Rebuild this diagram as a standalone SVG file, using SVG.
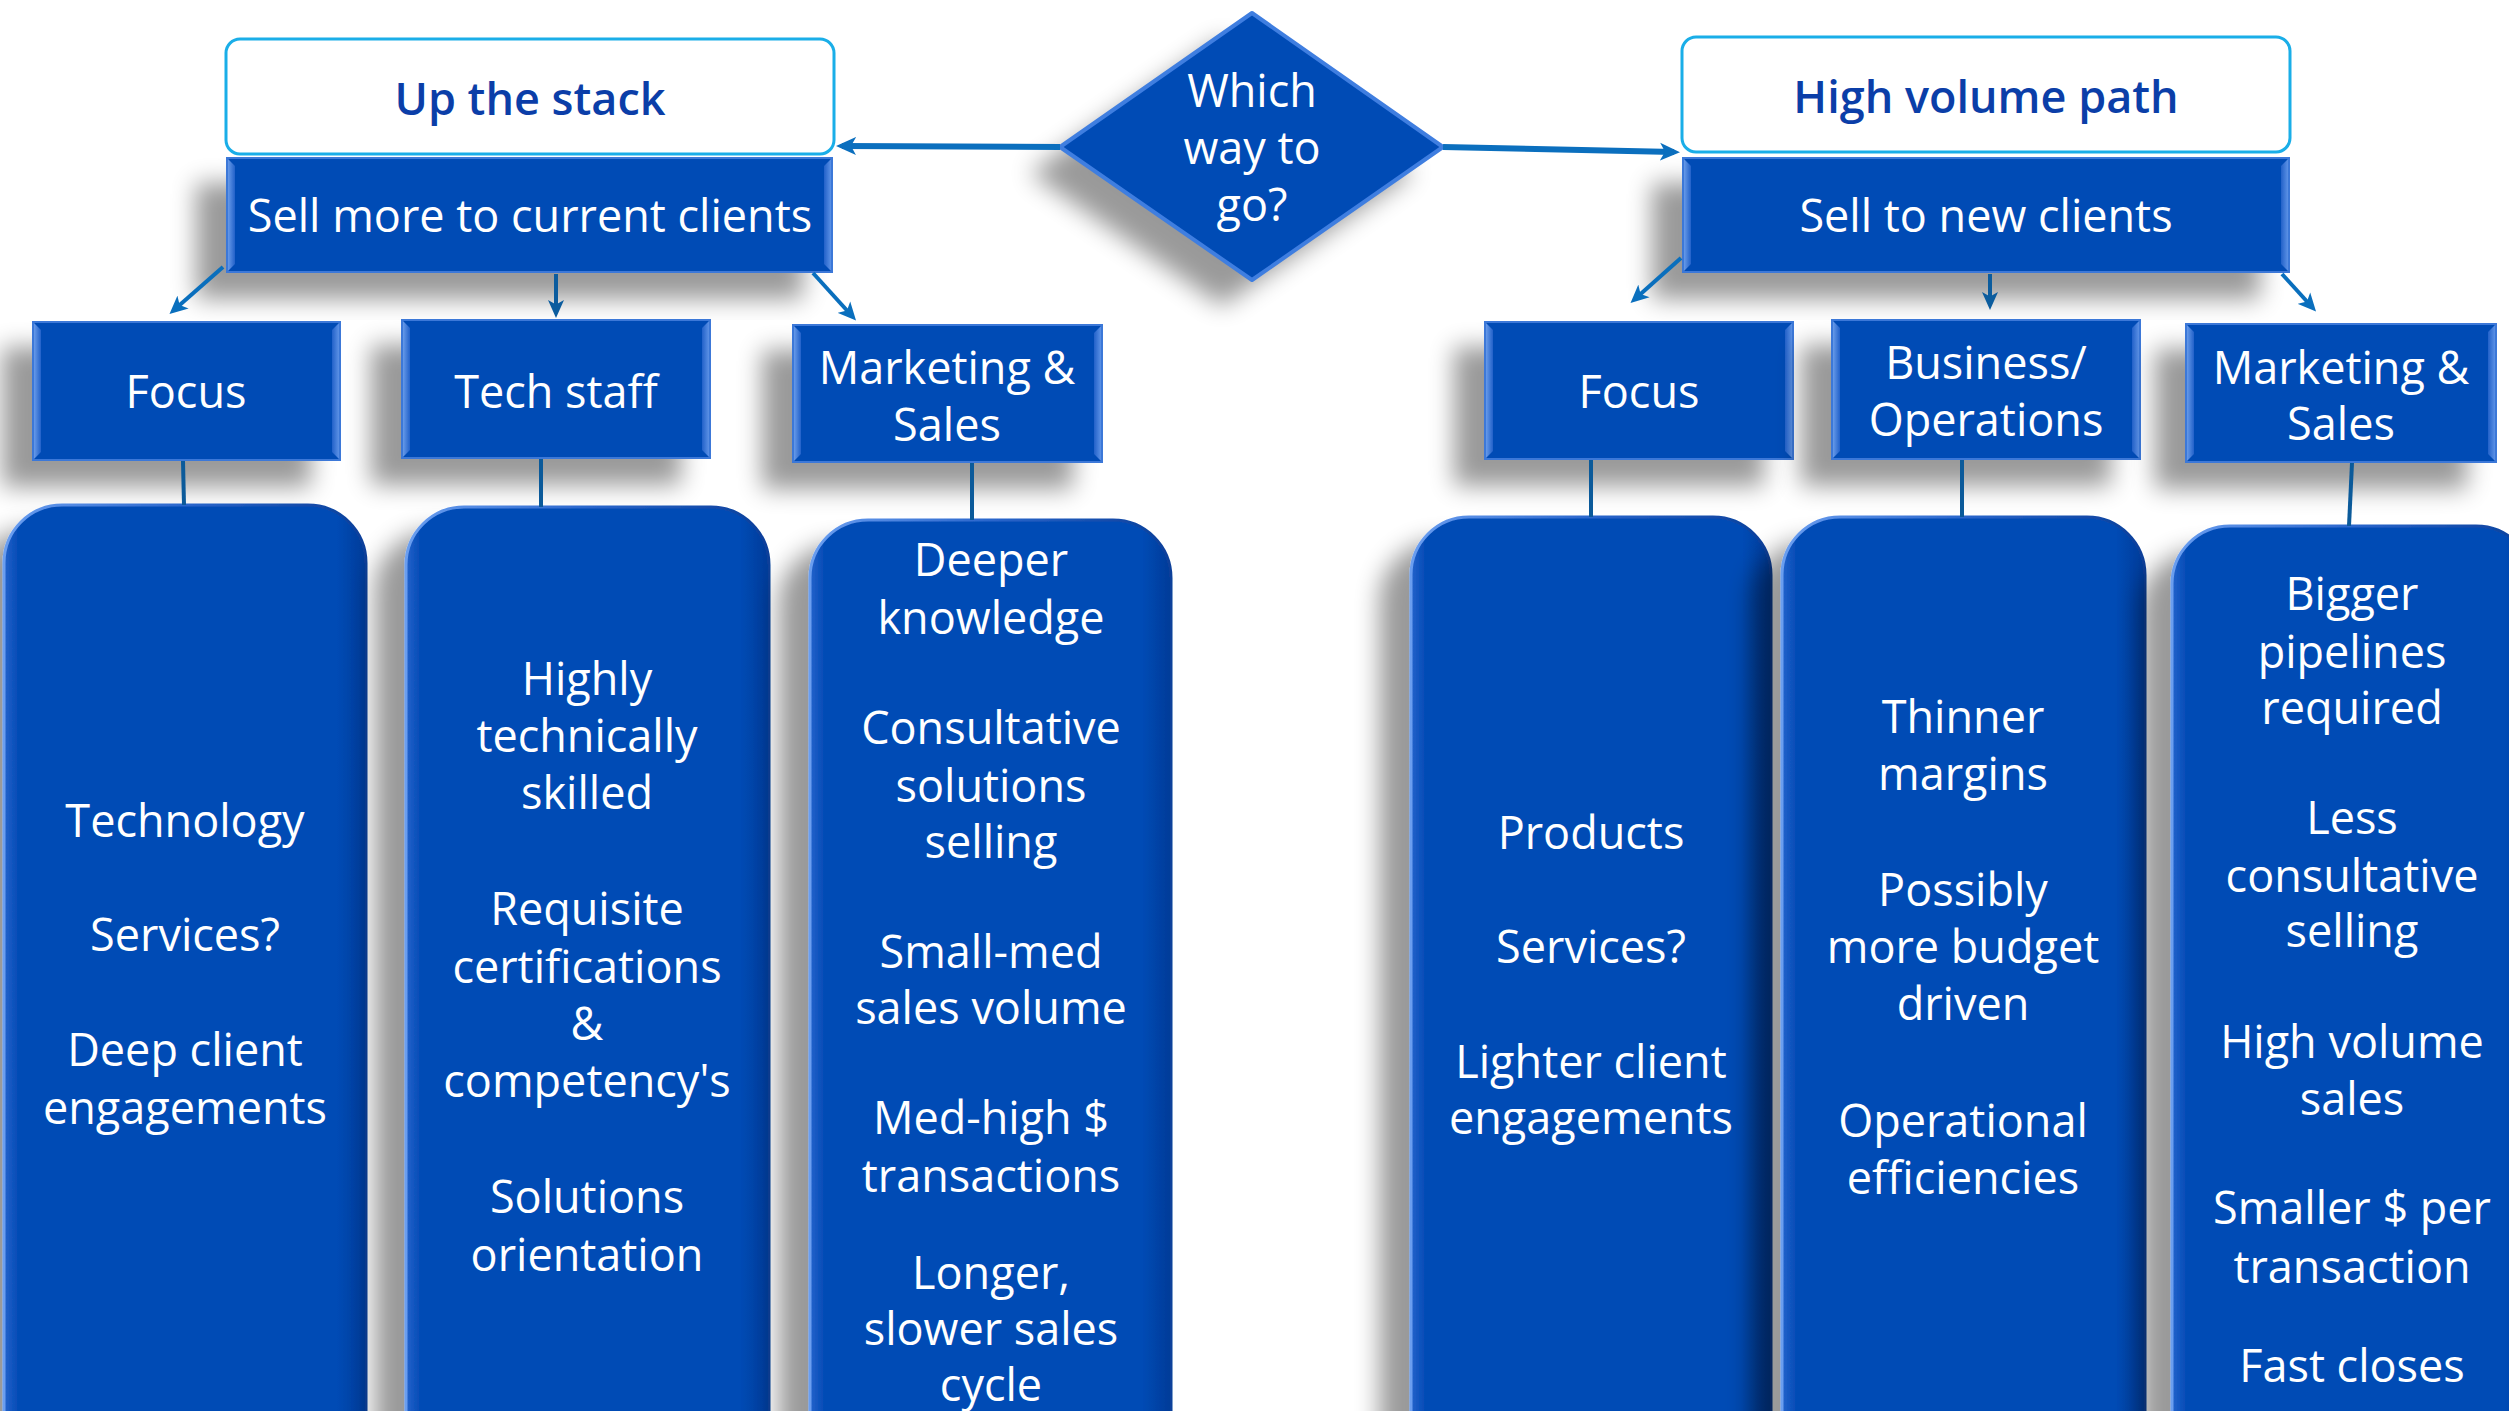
<svg xmlns="http://www.w3.org/2000/svg" width="2509" height="1411" viewBox="0 0 2509 1411">
  <style>
    .box { fill: #034bb5; }
    .edge { fill: none; stroke: #3c78d8; stroke-width: 2; }
    .bl { fill: url(#bevL); }
    .br { fill: url(#bevR); }
    .pill { fill: url(#pillFill); stroke: url(#pillEdge); stroke-width: 3; }
    .head { fill: #ffffff; stroke: #1aaee8; stroke-width: 3; }
    .w { fill: #ffffff; font-family: "Open Sans", "Noto Sans", "Liberation Sans", sans-serif; font-size: 45px; text-anchor: middle; }
    .t { fill: #0b3ea8; font-family: "Open Sans", "Noto Sans", "Liberation Sans", sans-serif; font-size: 45px; font-weight: 600; text-anchor: middle; }
    .thick { fill: none; stroke: #0b6fbe; stroke-width: 6; }
    .diag { fill: none; stroke: #0a6fbd; stroke-width: 4; }
    .vert { fill: none; stroke: #0b5c9e; stroke-width: 4; }
    .link { fill: none; stroke: #0b5a9a; stroke-width: 4; }
  </style>
  <defs>
    <filter id="shadow" x="-30%" y="-30%" width="160%" height="170%">
      <feGaussianBlur in="SourceAlpha" stdDeviation="12"/>
      <feOffset dx="-30" dy="26" result="o"/>
      <feComponentTransfer><feFuncA type="linear" slope="0.4"/></feComponentTransfer>
      <feMerge><feMergeNode/><feMergeNode in="SourceGraphic"/></feMerge>
    </filter>
    <linearGradient id="bevL" x1="0" y1="0" x2="1" y2="0">
      <stop offset="0" stop-color="#7aaaf2"/>
      <stop offset="1" stop-color="#2261c9"/>
    </linearGradient>
    <linearGradient id="bevR" x1="0" y1="0" x2="1" y2="0">
      <stop offset="0" stop-color="#2261c9"/>
      <stop offset="1" stop-color="#6c9fee"/>
    </linearGradient>
    <linearGradient id="pillFill" x1="0" y1="0" x2="1" y2="0">
      <stop offset="0" stop-color="#2563cc"/>
      <stop offset="0.04" stop-color="#034bb5"/>
      <stop offset="0.92" stop-color="#034bb5"/>
      <stop offset="1" stop-color="#023b98"/>
    </linearGradient>
    <linearGradient id="pillEdge" x1="0" y1="0" x2="1" y2="0">
      <stop offset="0" stop-color="#6a9ef0"/>
      <stop offset="0.5" stop-color="#2a66cc"/>
      <stop offset="1" stop-color="#0a3f9a"/>
    </linearGradient>
    <marker id="mThick" viewBox="0 0 20 20" refX="14" refY="10" markerWidth="20" markerHeight="20" markerUnits="userSpaceOnUse" orient="auto">
      <path d="M0,1 L20,10 L0,19 L5,10 z" fill="#0b6fbe"/>
    </marker>
    <marker id="mDiag" viewBox="0 0 18 18" refX="12" refY="9" markerWidth="18" markerHeight="18" markerUnits="userSpaceOnUse" orient="auto">
      <path d="M0,0.5 L18,9 L0,17.5 L4.5,9 z" fill="#0a6fbd"/>
    </marker>
    <marker id="mVert" viewBox="0 0 18 18" refX="12" refY="9" markerWidth="18" markerHeight="18" markerUnits="userSpaceOnUse" orient="auto">
      <path d="M0,1 L18,9 L0,17 L4.5,9 z" fill="#0b5c9e"/>
    </marker>
  </defs>

  <rect width="2509" height="1411" fill="#ffffff"/>

  <!-- decision diamond -->
  <g id="decision">
    <polygon class="box" points="1252,13 1443,147 1252,280 1060,147" filter="url(#shadow)"/>
    <polygon points="1252,13 1443,147 1252,280 1060,147" fill="none" stroke="#3f7ee0" stroke-width="4" stroke-linejoin="round"/>
    <text class="w"><tspan x="1252" y="107">Which</tspan><tspan x="1252" y="164">way to</tspan><tspan x="1252" y="221">go?</tspan></text>
  </g>

  <!-- path headings -->
  <g id="up-the-stack">
    <rect class="head" x="226" y="39" width="608" height="115" rx="14"/>
    <text class="t" x="530" y="115">Up the stack</text>
  </g>
  <g id="high-volume-path">
    <rect class="head" x="1682" y="37" width="608" height="115" rx="14"/>
    <text class="t" x="1986" y="113">High volume path</text>
  </g>

  <!-- strategy boxes -->
  <g id="sell-more">
    <rect class="box" x="226" y="157" width="607" height="116" filter="url(#shadow)"/>
    <polygon class="bl" points="226,157 235,166 235,264 226,273"/>
    <polygon class="br" points="824,166 833,157 833,273 824,264"/>
    <rect class="edge" x="227" y="158" width="605" height="114"/>
    <text class="w" x="530" y="232">Sell more to current clients</text>
  </g>
  <g id="sell-new">
    <rect class="box" x="1682" y="157" width="608" height="116" filter="url(#shadow)"/>
    <polygon class="bl" points="1682,157 1691,166 1691,264 1682,273"/>
    <polygon class="br" points="2281,166 2290,157 2290,273 2281,264"/>
    <rect class="edge" x="1683" y="158" width="606" height="114"/>
    <text class="w" x="1986" y="232">Sell to new clients</text>
  </g>

  <!-- category boxes, left branch -->
  <g id="focus-left">
    <rect class="box" x="32" y="321" width="309" height="140" filter="url(#shadow)"/>
    <polygon class="bl" points="32,321 41,330 41,452 32,461"/>
    <polygon class="br" points="332,330 341,321 341,461 332,452"/>
    <rect class="edge" x="33" y="322" width="307" height="138"/>
    <text class="w" x="186" y="408">Focus</text>
  </g>
  <g id="tech-staff">
    <rect class="box" x="401" y="319" width="310" height="140" filter="url(#shadow)"/>
    <polygon class="bl" points="401,319 410,328 410,450 401,459"/>
    <polygon class="br" points="702,328 711,319 711,459 702,450"/>
    <rect class="edge" x="402" y="320" width="308" height="138"/>
    <text class="w" x="556" y="408">Tech staff</text>
  </g>
  <g id="marketing-left">
    <rect class="box" x="792" y="324" width="311" height="139" filter="url(#shadow)"/>
    <polygon class="bl" points="792,324 801,333 801,454 792,463"/>
    <polygon class="br" points="1094,333 1103,324 1103,463 1094,454"/>
    <rect class="edge" x="793" y="325" width="309" height="137"/>
    <text class="w"><tspan x="947" y="384">Marketing &amp;</tspan><tspan x="947" y="441">Sales</tspan></text>
  </g>

  <!-- category boxes, right branch -->
  <g id="focus-right">
    <rect class="box" x="1484" y="321" width="310" height="139" filter="url(#shadow)"/>
    <polygon class="bl" points="1484,321 1493,330 1493,451 1484,460"/>
    <polygon class="br" points="1785,330 1794,321 1794,460 1785,451"/>
    <rect class="edge" x="1485" y="322" width="308" height="137"/>
    <text class="w" x="1639" y="408">Focus</text>
  </g>
  <g id="business-ops">
    <rect class="box" x="1831" y="319" width="310" height="141" filter="url(#shadow)"/>
    <polygon class="bl" points="1831,319 1840,328 1840,451 1831,460"/>
    <polygon class="br" points="2132,328 2141,319 2141,460 2132,451"/>
    <rect class="edge" x="1832" y="320" width="308" height="139"/>
    <text class="w"><tspan x="1986" y="379">Business/</tspan><tspan x="1986" y="436">Operations</tspan></text>
  </g>
  <g id="marketing-right">
    <rect class="box" x="2185" y="323" width="312" height="140" filter="url(#shadow)"/>
    <polygon class="bl" points="2185,323 2194,332 2194,454 2185,463"/>
    <polygon class="br" points="2488,332 2497,323 2497,463 2488,454"/>
    <rect class="edge" x="2186" y="324" width="310" height="138"/>
    <text class="w"><tspan x="2341" y="384">Marketing &amp;</tspan><tspan x="2341" y="440">Sales</tspan></text>
  </g>

  <!-- detail columns -->
  <g id="detail-focus-left">
    <rect class="pill" x="4" y="505" width="362" height="1000" rx="58" filter="url(#shadow)"/>
    <text class="w"><tspan x="185" y="837">Technology</tspan><tspan x="185" y="951">Services?</tspan><tspan x="185" y="1066">Deep client</tspan><tspan x="185" y="1124">engagements</tspan></text>
  </g>
  <g id="detail-tech-staff">
    <rect class="pill" x="406" y="507" width="363" height="1000" rx="58" filter="url(#shadow)"/>
    <text class="w"><tspan x="587" y="695">Highly</tspan><tspan x="587" y="752">technically</tspan><tspan x="587" y="809">skilled</tspan><tspan x="587" y="925">Requisite</tspan><tspan x="587" y="983">certifications</tspan><tspan x="587" y="1040">&amp;</tspan><tspan x="587" y="1097">competency's</tspan><tspan x="587" y="1213">Solutions</tspan><tspan x="587" y="1271">orientation</tspan></text>
  </g>
  <g id="detail-marketing-left">
    <rect class="pill" x="810" y="520" width="361" height="1000" rx="58" filter="url(#shadow)"/>
    <text class="w"><tspan x="991" y="576">Deeper</tspan><tspan x="991" y="634">knowledge</tspan><tspan x="991" y="744">Consultative</tspan><tspan x="991" y="802">solutions</tspan><tspan x="991" y="858">selling</tspan><tspan x="991" y="968">Small-med</tspan><tspan x="991" y="1024">sales volume</tspan><tspan x="991" y="1134">Med-high $</tspan><tspan x="991" y="1192">transactions</tspan><tspan x="991" y="1289">Longer,</tspan><tspan x="991" y="1345">slower sales</tspan><tspan x="991" y="1401">cycle</tspan></text>
  </g>
  <g id="detail-focus-right">
    <rect class="pill" x="1411" y="517" width="360" height="1000" rx="58" filter="url(#shadow)"/>
    <text class="w"><tspan x="1591" y="849">Products</tspan><tspan x="1591" y="963">Services?</tspan><tspan x="1591" y="1078">Lighter client</tspan><tspan x="1591" y="1134">engagements</tspan></text>
  </g>
  <g id="detail-business-ops">
    <rect class="pill" x="1782" y="517" width="363" height="1000" rx="58" filter="url(#shadow)"/>
    <text class="w"><tspan x="1963" y="733">Thinner</tspan><tspan x="1963" y="790">margins</tspan><tspan x="1963" y="906">Possibly</tspan><tspan x="1963" y="963">more budget</tspan><tspan x="1963" y="1020">driven</tspan><tspan x="1963" y="1137">Operational</tspan><tspan x="1963" y="1194">efficiencies</tspan></text>
  </g>
  <g id="detail-marketing-right">
    <rect class="pill" x="2172" y="526" width="362" height="1000" rx="58" filter="url(#shadow)"/>
    <text class="w"><tspan x="2352" y="610">Bigger</tspan><tspan x="2352" y="668">pipelines</tspan><tspan x="2352" y="724">required</tspan><tspan x="2352" y="834">Less</tspan><tspan x="2352" y="892">consultative</tspan><tspan x="2352" y="947">selling</tspan><tspan x="2352" y="1058">High volume</tspan><tspan x="2352" y="1115">sales</tspan><tspan x="2352" y="1224">Smaller $ per</tspan><tspan x="2352" y="1283">transaction</tspan><tspan x="2352" y="1382">Fast closes</tspan></text>
  </g>

  <!-- connectors -->
  <g id="connectors">
    <path class="thick" d="M1060,147 L842,146" marker-end="url(#mThick)"/>
    <path class="thick" d="M1443,147 L1674,152" marker-end="url(#mThick)"/>
    <path class="diag" d="M223,267 L174,310" marker-end="url(#mDiag)"/>
    <path class="vert" d="M556,274 L556,312" marker-end="url(#mVert)"/>
    <path class="diag" d="M813,273 L852,316" marker-end="url(#mDiag)"/>
    <path class="diag" d="M1681,258 L1635,299" marker-end="url(#mDiag)"/>
    <path class="vert" d="M1990,274 L1990,304" marker-end="url(#mVert)"/>
    <path class="diag" d="M2282,274 L2312,307" marker-end="url(#mDiag)"/>
    <path class="link" d="M183,461 L184,505"/>
    <path class="link" d="M541,459 L541,507"/>
    <path class="link" d="M972,463 L972,520"/>
    <path class="link" d="M1591,460 L1591,517"/>
    <path class="link" d="M1962,460 L1962,517"/>
    <path class="link" d="M2352,463 L2349,526"/>
  </g>
</svg>
